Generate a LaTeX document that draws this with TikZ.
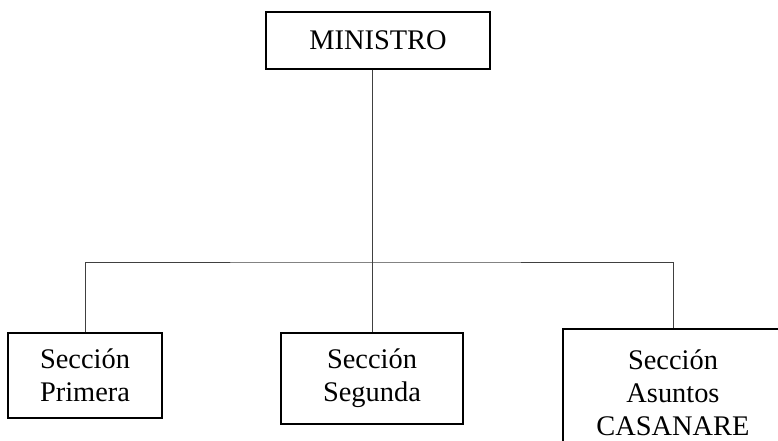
\documentclass[tikz,border=0pt]{standalone}
\usepackage{fontspec}
\setmainfont{Liberation Serif}
\usepackage{tikz}
\usetikzlibrary{calc}

\tikzset{
	cargo/.style={draw=black, line width=0.6pt, inner sep=0pt, align=center,
		font=\fontsize{14.2}{16.5}\selectfont},
	enlace/.style={draw=black!75, line width=0.5pt}
}

\begin{document}
\begin{tikzpicture}[x=0.5pt, y=-0.5pt]
	\useasboundingbox (0,0) rectangle (778,440);
	% cargos (coordenadas en pixeles de la imagen)
	\node[cargo, minimum width=112pt, minimum height=28.5pt] (ministro) at (378,40.5) {MINISTRO};
	\node[cargo, minimum width=77pt, minimum height=42.5pt] (primera) at (85,375.5) {Secci\'on\\Primera};
	\node[cargo, minimum width=91pt, minimum height=45.5pt] (segunda) at (372,378.5) {Secci\'on\\Segunda};
	\node[cargo, minimum width=110pt, minimum height=64pt] (casanare) at (673,393) {Secci\'on\\Asuntos\\CASANARE};
	
	% lineas de mando
	\coordinate (junta) at (372,262);
	\draw[enlace] (ministro.south -| segunda.north) -- (segunda.north);
	\draw[enlace] (primera.north) |- (junta) -| (casanare.north);
\end{tikzpicture}
\end{document}
